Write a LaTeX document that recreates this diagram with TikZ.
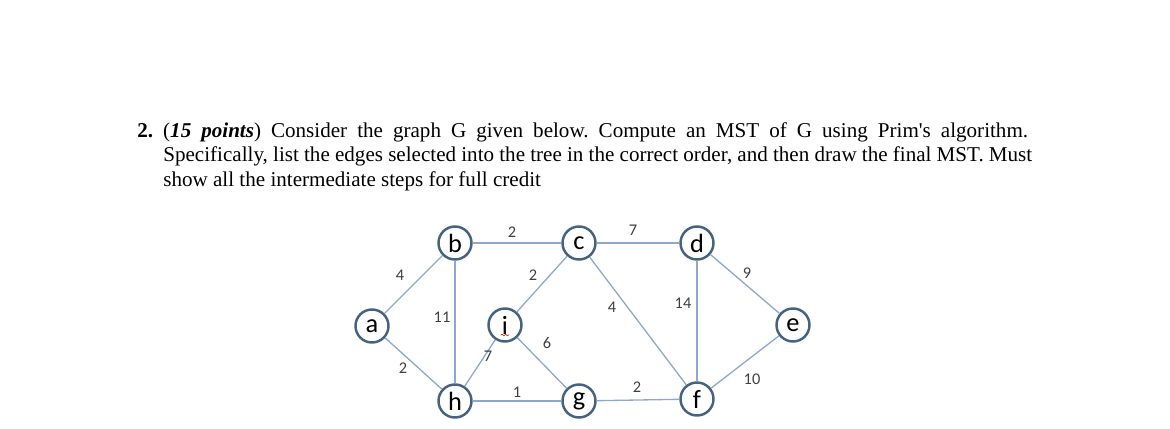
\documentclass[tikz,border=0pt]{standalone}
\usepackage{fontspec}
\setmainfont{Liberation Serif}
\newfontfamily\calibri{Carlito}
\usetikzlibrary{decorations.pathmorphing}
\definecolor{nodeblue}{HTML}{45627F}
\definecolor{edgeblue}{HTML}{8EA9C8}
\definecolor{labelgray}{HTML}{3F3F3F}
\frenchspacing

\begin{document}
\begin{tikzpicture}[x=0.02cm, y=-0.02cm,
    vertex/.style={circle, draw=nodeblue, line width=1.4pt, fill=white,
      minimum size=0.66cm, inner sep=0pt, font=\calibri\fontsize{15}{16}\selectfont},
    edge/.style={draw=edgeblue, line width=0.75pt},
    weight/.style={font=\calibri\fontsize{9.3}{10}\selectfont, text=labelgray, inner sep=0pt},
    qline/.style={anchor=base west, inner sep=0pt, font=\fontsize{12}{14}\selectfont}]
    \useasboundingbox (0,0) rectangle (1170,429);

    % Question
    \node[qline] (q1) at (137,137) {\makebox[17.82cm][s]{\textbf{2.} (\textbf{\textit{15 points}}) Consider the graph G given below. Compute an MST of G using Prim\textquotesingle s algorithm.}};
    \node[qline] (q2) at (163,161.5) {\makebox[17.38cm][s]{Specifically, list the edges selected into the tree in the correct order, and then draw the final MST. Must}};
    \node[qline] (q3) at (163,186) {show all the intermediate steps for full credit};

    % Vertices
    \foreach \name/\x/\y in {a/372/326, b/455/243, c/579/243, d/697/243,
                             e/793/325, f/697/399, g/579/401, h/455/401, i/505/325} {
        \node[vertex] (\name) at (\x,\y) {\name};
    }

    % Edges
    \foreach \u/\v in {a/b, a/h, b/c, b/h, c/i, c/d, c/f, d/f, d/e, e/f, f/g, g/i, g/h, h/i} {
        \draw[edge] (\u) -- (\v);
    }

    % Weights
    \foreach \nm/\x/\y/\w in {ab/400/275/4, ah/403/368/2, bc/512/232/2, bh/442/317/11,
                              ci/533/275/2, cd/633/230/7, cf/612/307/4, df/683/303/14,
                              de/747/273/9, ef/752/379/10, fg/637/387/2, gi/547/343/6,
                              gh/517/392/1, hi/488/356/7} {
        \node[weight] (w\nm) at (\x,\y) {\w};
    }

    % spell-check mark under i
    \coordinate (sq) at (501,335);
    \draw[red, line width=0.35pt, decorate, decoration={snake, amplitude=0.45pt, segment length=2pt}] (sq) -- ++(8,0);
\end{tikzpicture}
\end{document}
